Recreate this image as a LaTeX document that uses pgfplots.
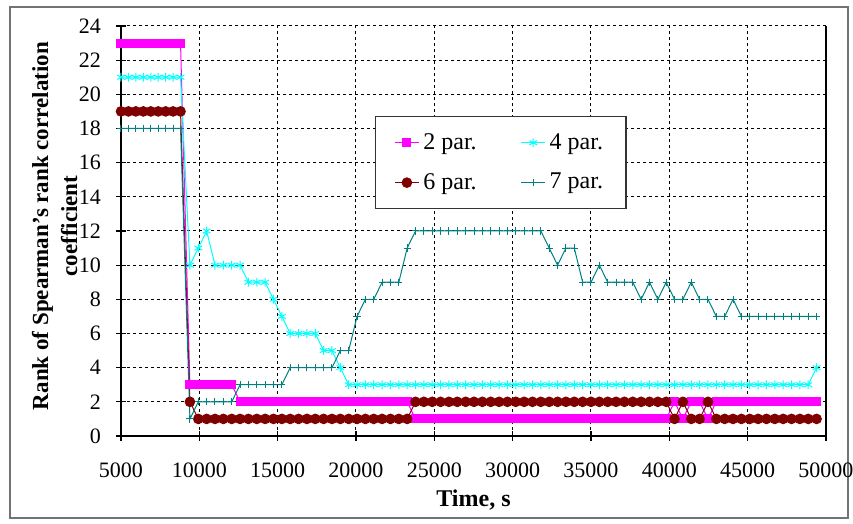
\documentclass[border=0pt]{standalone}
\usepackage{pgfplots}
\pgfplotsset{compat=1.18}
\usepackage{pgfplotstable}
\usepackage{fontspec}
\setmainfont{Liberation Serif}
\definecolor{cMag}{RGB}{255,0,255}
\definecolor{cCyan}{RGB}{0,255,255}
\definecolor{cRed}{RGB}{128,0,0}
\definecolor{cTeal}{RGB}{0,128,128}
\pgfplotstableread{
t a b c d
5000 23 21 19 18
5475 23 21 19 18
5950 23 21 19 18
6425 23 21 19 18
6900 23 21 19 18
7375 23 21 19 18
7850 23 21 19 18
8325 23 21 19 18
8800 23 21 19 18
9400 3 10 2 1
9933 3 11 1 2
10467 3 12 1 2
11000 3 10 1 2
11533 3 10 1 2
12067 3 10 1 2
12600 2 10 1 3
13133 2 9 1 3
13667 2 9 1 3
14200 2 9 1 3
14733 2 8 1 3
15267 2 7 1 3
15800 2 6 1 4
16333 2 6 1 4
16867 2 6 1 4
17400 2 6 1 4
17933 2 5 1 4
18467 2 5 1 4
19000 2 4 1 5
19533 2 3 1 5
20067 2 3 1 7
20600 2 3 1 8
21133 2 3 1 8
21667 2 3 1 9
22200 2 3 1 9
22733 2 3 1 9
23267 2 3 1 11
23800 1 3 2 12
24333 1 3 2 12
24867 1 3 2 12
25400 1 3 2 12
25933 1 3 2 12
26467 1 3 2 12
27000 1 3 2 12
27533 1 3 2 12
28067 1 3 2 12
28600 1 3 2 12
29133 1 3 2 12
29667 1 3 2 12
30200 1 3 2 12
30733 1 3 2 12
31267 1 3 2 12
31800 1 3 2 12
32333 1 3 2 11
32867 1 3 2 10
33400 1 3 2 11
33933 1 3 2 11
34467 1 3 2 9
35000 1 3 2 9
35533 1 3 2 10
36067 1 3 2 9
36600 1 3 2 9
37133 1 3 2 9
37667 1 3 2 9
38200 1 3 2 8
38733 1 3 2 9
39267 1 3 2 8
39800 1 3 2 9
40333 2 3 1 8
40867 1 3 2 8
41400 2 3 1 9
41933 2 3 1 8
42467 1 3 2 8
43000 2 3 1 7
43533 2 3 1 7
44067 2 3 1 8
44600 2 3 1 7
45133 2 3 1 7
45667 2 3 1 7
46200 2 3 1 7
46733 2 3 1 7
47267 2 3 1 7
47800 2 3 1 7
48333 2 3 1 7
48867 2 3 1 7
49400 2 4 1 7
}\ranks
\begin{document}
\begin{tikzpicture}
\useasboundingbox (-60.5pt,-44pt) rectangle (366pt,218pt);
\draw[black!55, line width=0.6pt] (-55.5pt,-41pt) rectangle (363.5pt,214.5pt);
\begin{axis}[
  at={(0pt,0pt)}, anchor=south west,
  scale only axis, width=352.5pt, height=205pt,
  xmin=5000, xmax=50000, ymin=0, ymax=24,
  enlargelimits=false,
  xtick={5000,10000,...,50000}, ytick={0,2,...,24},
  scaled x ticks=false,
  /pgf/number format/1000 sep={},
  /pgf/number format/assume math mode=true,
  axis lines*=left,
  axis line style={black, line width=0.9pt},
  tick align=center, major tick length=5pt,
  tick style={black, line width=0.6pt},
  grid=major,
  grid style={black, line width=0.5pt, dash pattern=on 1.5pt off 1.5pt},
  clip=false,
  ticklabel style={font=\fontsize{11}{12}\selectfont},
  xticklabel style={yshift=-7.5pt},
  yticklabel style={xshift=-4pt},
  xlabel={Time, s},
  ylabel={Rank of Spearman's rank correlation\\coefficient},
  xlabel style={font=\bfseries\fontsize{12}{14}\selectfont, at={(axis description cs:0.5,0)}, anchor=center, yshift=-32pt},
  ylabel style={font=\bfseries\fontsize{11.5}{14.5}\selectfont, align=center, at={(axis description cs:-0.094,0.512)}, anchor=center},
  legend columns=2,
  legend image code/.code={\draw[mark repeat=2,mark phase=2] plot coordinates {(0pt,0pt)(6pt,0pt)(12pt,0pt)};},
  legend style={at={(axis description cs:0.36,0.78)}, anchor=north west,
    draw=black!80, line width=0.6pt, fill=white,
    font=\fontsize{12}{14}\selectfont,
    inner xsep=9.5pt, inner ysep=6.25pt, row sep=6.5pt,
    /tikz/every even column/.append style={column sep=20pt}},
]
\addplot[color=cMag, line width=0.5pt, mark=square*, mark size=2pt, mark options={fill=cMag, draw=cMag, solid}] table[x=t,y=a]{\ranks};
\addplot[color=cCyan, line width=0.5pt, mark=asterisk, mark size=2.2pt, mark options={draw=cCyan, solid}] table[x=t,y=b]{\ranks};
\addplot[color=cRed, line width=0.5pt, mark=*, mark size=2.4pt, mark options={fill=cRed, draw=cRed, solid}] table[x=t,y=c]{\ranks};
\addplot[color=cTeal, line width=0.5pt, mark=+, mark size=1.8pt, mark options={draw=cTeal, solid}] table[x=t,y=d]{\ranks};
\legend{2 par., 4 par., 6 par., 7 par.}
\draw[black, line width=0.9pt] (rel axis cs:1,0) -- (rel axis cs:1,1);
\end{axis}
\end{tikzpicture}
\end{document}
